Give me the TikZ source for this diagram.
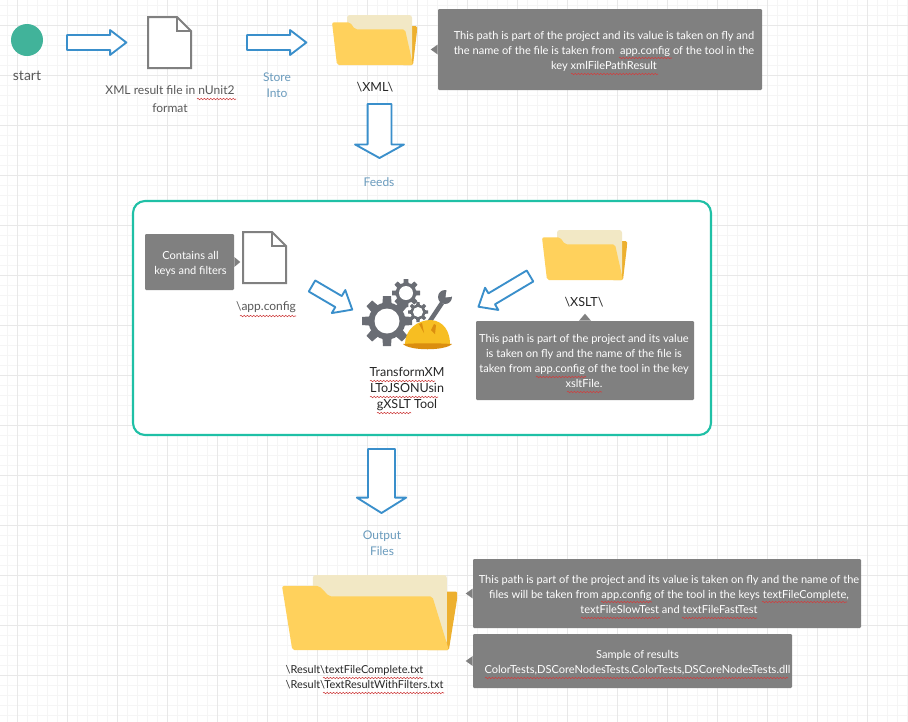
\documentclass[tikz,border=0pt]{standalone}
\usepackage{fontspec}
\setmainfont{Lato}
\usetikzlibrary{shapes.arrows,decorations.pathmorphing}

\definecolor{arrowblue}{HTML}{3A8FCB}
\definecolor{labelblue}{HTML}{6A9BBD}
\definecolor{notegray}{HTML}{808080}
\definecolor{boxteal}{HTML}{1FC0A6}
\definecolor{startgreen}{HTML}{41B39A}
\definecolor{folderfront}{HTML}{FFD15C}
\definecolor{foldercream}{HTML}{F2E8C5}
\definecolor{folderback}{HTML}{EDB02F}
\definecolor{gearcolor}{HTML}{6A6D74}
\definecolor{hatyellow}{HTML}{F7BE22}
\definecolor{hatorange}{HTML}{DB8E0F}

\tikzset{
  blockarrow/.style={single arrow,draw=arrowblue,fill=white,line width=1.4pt,line join=round,inner xsep=0pt,outer sep=0pt,anchor=tail},
  notebox/.style={fill=notegray,rounded corners=.8pt,inner sep=0pt},
  noteText/.style={text=white,align=center,font=\fontsize{8.3}{11.25}\selectfont,inner sep=0pt},
  grayText/.style={text=black!65,align=center,font=\fontsize{9.05}{13.5}\selectfont},
  blueText/.style={text=labelblue,align=center,font=\fontsize{9}{12}\selectfont},
  darkText/.style={text=black!85,align=center,font=\fontsize{9.4}{12}\selectfont},
  spellmark/.style={draw=red!75!black!75,line width=.4pt,decorate,decoration={snake,amplitude=.55pt,segment length=2.4pt}},
  docicon/.pic={
    \draw[draw=black!50,fill=white,line width=1.5pt,line join=miter] (0,0)--(29,0)--(43,14)--(43,51)--(0,51)--cycle;
    \draw[draw=black!50,line width=1.5pt] (29,0)--(29,14)--(43,14);
  },
  foldericon/.pic={
    \fill[folderback,rounded corners=1pt] (70,11)--(85,11)--(85,16)--(81,50)--(70,50)--cycle;
    \fill[foldercream,rounded corners=2pt] (15,0)--(80,0)--(80,46)--(15,46)--cycle;
    \fill[folderfront,rounded corners=1.5pt] (0,7.3)--(18,7.3)--(23,14.3)--(73,14.3)--(81,50)--(5,50)--cycle;
  },
  gearicon/.pic={
    \foreach \a in {0,45,...,315}
      \fill[gearcolor,rotate=\a] (-1.9,6)--(-1.6,10)--(1.6,10)--(1.9,6)--cycle;
    \fill[gearcolor] (0,0) circle (7.4);
    \fill[white] (0,0) circle (5);
  }
}

\begin{document}
\begin{tikzpicture}[x=.75pt,y=-.75pt]
\useasboundingbox (0,0) rectangle (908,722);
\fill[white] (0,0) rectangle (908,722);

% grid
\foreach \x in {7,17,...,907} \draw[black!4,line width=.5pt] (\x,0)--(\x,722);
\foreach \y in {5,15,...,715} \draw[black!4,line width=.5pt] (0,\y)--(908,\y);
\foreach \x in {17,67,...,867} \draw[black!9,line width=.5pt] (\x,0)--(\x,722);
\foreach \y in {25,75,...,675} \draw[black!9,line width=.5pt] (0,\y)--(908,\y);

% top row
\node[circle,fill=startgreen,minimum size=24pt,inner sep=0pt] (start) at (27,40) {};
\node[grayText,font=\fontsize{10.5}{12}\selectfont] (startlabel) at (27,76) {start};
\node[blockarrow,minimum height=44.5pt,inner ysep=4.9pt,single arrow head extend=3.75pt,single arrow tip angle=75] (arrowa) at (67,42.5) {};
\pic at (148,17) {docicon};
\node[grayText] (xmlfile) at (170,99) {XML result file in nUnit2\\format};
\node[blockarrow,minimum height=44.5pt,inner ysep=4.9pt,single arrow head extend=3.75pt,single arrow tip angle=75] (arrowb) at (247,42.5) {};
\node[blueText] (store) at (277,85) {Store\\Into};
\pic at (332,15) {foldericon};
\node[darkText] (xmlpath) at (375,87) {\textbackslash XML\textbackslash};
\node[notebox,minimum width=243pt,minimum height=60.75pt] (notexml) at (600,49.5) {};
\node[noteText] (textxml) at (604,51) {This path is part of the project and its value is taken on fly and\\the name of the file is taken from\ \ app.config of the tool in the\\key xmlFilePathResult};
\fill[notegray] (notexml.west) ++(0,-5)--++(-7,5)--++(7,5)--cycle;
\node[blockarrow,rotate=-90,minimum height=40.5pt,inner ysep=8.25pt,single arrow head extend=9.4pt,single arrow tip angle=122] (arrowfeeds) at (379.5,104) {};
\node[blueText] (feeds) at (379,182) {Feeds};

% tool box
\node[draw=boxteal,fill=white,line width=1.6pt,rounded corners=9pt,minimum width=433.5pt,minimum height=175.5pt,inner sep=0pt] (toolbox) at (422,318) {};
\node[notebox,minimum width=66.75pt,minimum height=42pt] (notekeys) at (189.5,262) {};
\node[noteText] (textkeys) at (190.5,264) {Contains all\\keys and filters};
\fill[notegray] (notekeys.east) ++(0,-5)--++(6,5)--++(-6,5)--cycle;
\pic at (243,232) {docicon};
\node[grayText,font=\fontsize{9}{12}\selectfont] (appconfig) at (266,307) {\textbackslash app.config};
\node[blockarrow,rotate=-30.4,minimum height=35pt,inner ysep=4.1pt,single arrow head extend=5.2pt,single arrow tip angle=80] (arrowconfig) at (312,286) {};
\pic[scale=2.5] at (387,321) {gearicon};
\pic[scale=1.4] at (406,293) {gearicon};
\pic[scale=1] at (418,312) {gearicon};
% wrench and hat
\draw[gearcolor,line width=3.4pt] (428,324)--(442,303);
\fill[gearcolor] (445,297) circle (7);
\fill[white] (445.5,297.5)--(447,287)--(455,289)--(456,296)--cycle;
\fill[hatyellow] (405,344) .. controls (405,330) and (417,320) .. (431,320) .. controls (444,321) and (450,332) .. (450,344) -- cycle;
\fill[hatorange] (403,344) .. controls (420,343) and (435,343) .. (452,344) .. controls (445,351) and (410,351) .. (403,344) -- cycle;
\fill[hatorange] (419,324)--(422,323)--(424,333)--cycle;
\fill[hatorange] (434,324)--(436,325)--(435,334)--(431,330)--cycle;
\node[darkText,font=\fontsize{9.4}{12}\selectfont] (tool) at (407,389) {TransformXM\\LToJSONUsin\\gXSLT Tool};
\node[blockarrow,rotate=210.8,minimum height=45pt,inner ysep=4.1pt,single arrow head extend=4.9pt,single arrow tip angle=80] (arrowxslt) at (530,276) {};
\pic at (542,230) {foldericon};
\node[darkText] (xsltpath) at (584,302) {\textbackslash XSLT\textbackslash};
\node[notebox,minimum width=163.5pt,minimum height=59.25pt] (notexslt) at (585,360.5) {};
\node[noteText] (textxslt) at (584,360.5) {This path is part of the project and its value\\is taken on fly and the name of the file is\\taken from app.config of the tool in the key\\xsltFile.};
\fill[notegray] (notexslt.north) ++(-6,0)--++(6,-7)--++(6,7)--cycle;

% output
\node[blockarrow,rotate=-90,minimum height=48pt,inner ysep=9.4pt,single arrow head extend=8.4pt,single arrow tip angle=116] (arrowoutput) at (381.5,449) {};
\node[blueText] (output) at (382,543) {Output\\Files};
\pic[xscale=2.06,yscale=1.5] at (282,575) {foldericon};
\node[darkText,anchor=west,align=left,font=\fontsize{8.2}{11.25}\selectfont] (resultfiles) at (281,677) {\textbackslash Result\textbackslash textFileComplete.txt\\\textbackslash Result\textbackslash TextResultWithFilters.txt};
\node[notebox,minimum width=291pt,minimum height=51.75pt] (noteoutput) at (667,593.5) {};
\node[noteText] (textoutput) at (669,594.5) {This path is part of the project and its value is taken on fly and the name of the\\files will be taken from app.config of the tool in the keys textFileComplete,\\textFileSlowTest and textFileFastTest};
\fill[notegray] (noteoutput.west) ++(0,-5)--++(-7,5)--++(7,5)--cycle;
\node[notebox,minimum width=239.25pt,minimum height=40.5pt] (notesample) at (632.5,661) {};
\node[noteText] (textsample) at (637.5,663) {Sample of results\\ColorTests,DSCoreNodesTests.ColorTests,DSCoreNodesTests.dll};
\fill[notegray] (notesample.west) ++(0,-5)--++(-7,5)--++(7,5)--cycle;

% spell check marks
\foreach \xa/\xb/\yy in {197/236/99,619/672/58,571/658/74,240/296/316,370/435/381,370/438/397,377/411/413,536/586/377,567/602/392,323/423/678,323/444/693,601/652/602,762/847/602,581/660/618,682/757/618,485/788/678}
  \draw[spellmark] (\xa,\yy)--(\xb,\yy);

\end{tikzpicture}
\end{document}
